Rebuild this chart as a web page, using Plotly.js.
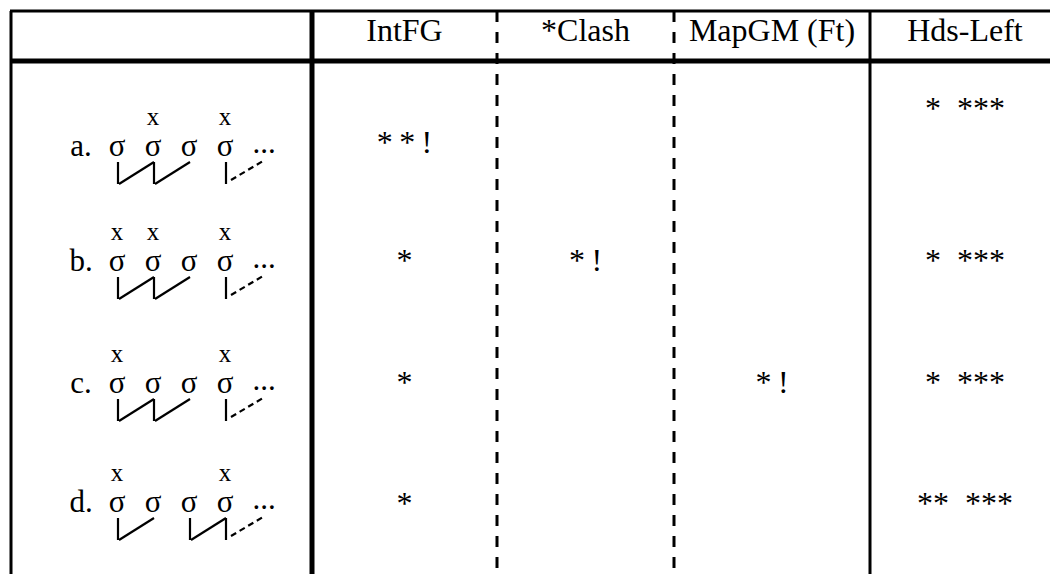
<!DOCTYPE html>
<html><head><meta charset="utf-8">
<script src="https://cdn.plot.ly/plotly-3.0.1.min.js"></script>
<style>html,body{margin:0;padding:0;background:#fff}#chart{width:1050px;height:574px}</style>
</head><body><div id="chart"></div>
<script>
// ---- data ----
const constraints = ["IntFG", "*Clash", "MapGM (Ft)", "Hds-Left"];
const candidateLabels = ["a.", "b.", "c.", "d."];
const syllables = ["σ", "σ", "σ", "σ"];
const stressMarks = [[1, 3], [0, 1, 3], [0, 3], [0, 3]];          // syllable indices bearing "x"
const feet = [                                                      // [head, tail, dashed?]
  [[0, 1, false], [1, 2, false], [3, 4, true]],
  [[0, 1, false], [1, 2, false], [3, 4, true]],
  [[0, 1, false], [1, 2, false], [3, 4, true]],
  [[0, 1, false], [2, 3, false], [3, 4, true]]
];
const violIntFG   = ["**!", "*", "*", "*"];
const violClash   = ["", "*!", "", ""];
const violMapGM   = ["", "", "*!", ""];
const violHdsLeft = ["* ***", "* ***", "* ***", "** ***"];

// ---- layout geometry ----
const W = 1050, H = 574;
const colLines = {left: 11, cand: 312, d1: 497, d2: 674, solid: 870, right: 1060};
const topY = 11, headY = 61;
const rowY = [148, 263, 385, 504];
const labelX = 81, sylX0 = 117, sylStep = 36;
const colCenters = [(colLines.cand + colLines.d1) / 2, (colLines.d1 + colLines.d2) / 2,
                    (colLines.d2 + colLines.solid) / 2, (colLines.solid + colLines.right) / 2];
const markDy = [[-3, -3, -3, -37], [0, 0, 0, 0], [0, 0, 0, 0], [2, 2, 2, 2]];
const serif = "Liberation Serif, Times New Roman, serif";
const sx = i => sylX0 + i * sylStep;
// typographic spacing of the violation strings
const spacedBang = s => s.split("").join("\u2009");
const spacedRun = s => s.replace(/ /g, "\u2002");

const traces = [];
// candidate rows: labels + syllables + "..."
const tx = [], ty = [], tt = [];
candidateLabels.forEach((lab, r) => {
  tx.push(labelX); ty.push(rowY[r]); tt.push(lab);
  syllables.forEach((s, i) => { tx.push(sx(i)); ty.push(rowY[r]); tt.push(s); });
  tx.push(sx(syllables.length) + 3); ty.push(rowY[r] - 3); tt.push("...");
});
traces.push({type: "scatter", mode: "text", x: tx, y: ty, text: tt, hoverinfo: "skip",
  textposition: "middle center", textfont: {family: serif, size: 31, color: "#000"}});
// stress grid marks
const xx = [], xy = [], xt = [];
stressMarks.forEach((arr, r) => arr.forEach(i => { xx.push(sx(i)); xy.push(rowY[r] - 29); xt.push("x"); }));
traces.push({type: "scatter", mode: "text", x: xx, y: xy, text: xt, hoverinfo: "skip",
  textposition: "middle center", textfont: {family: serif, size: 25, color: "#000"}});
// feet
feet.forEach((row, r) => row.forEach(([h, t, dashed]) => {
  const y0 = rowY[r] + 14, y1 = rowY[r] + 36;
  traces.push({type: "scatter", mode: "lines", x: [sx(h) + 1, sx(h) + 1], y: [y0, y1], hoverinfo: "skip",
    line: {color: "#000", width: 2.2}});
  traces.push({type: "scatter", mode: "lines", x: [sx(h) + (dashed ? 6 : 2), sx(t) + (dashed ? 2 : 1)],
    y: [y1 - (dashed ? 4 : 0), y0 - (dashed ? 1 : 0)], hoverinfo: "skip",
    line: {color: "#000", width: 2.2, dash: dashed ? "6px,4px" : "solid"}});
}));
// violation marks
const mx = [], my = [], mt = [];
[violIntFG, violClash, violMapGM, violHdsLeft].forEach((col, c) => col.forEach((v, r) => {
  if (v) { mx.push(colCenters[c]); my.push(rowY[r] + markDy[r][c]); mt.push(c === 3 ? spacedRun(v) : spacedBang(v)); }
}));
traces.push({type: "scatter", mode: "text", x: mx, y: my, text: mt, hoverinfo: "skip",
  textposition: "middle center", textfont: {family: serif, size: 32, color: "#000"}});
// header
traces.push({type: "scatter", mode: "text", x: colCenters, y: constraints.map(() => 33), text: constraints,
  hoverinfo: "skip", textposition: "middle center", textfont: {family: serif, size: 32, color: "#000"}});

const ln = (x0, y0, x1, y1, w, dash) => ({type: "line", xref: "x", yref: "y", x0, y0, x1, y1,
  line: {color: "#000", width: w, dash: dash || "solid"}});
const shapes = [
  ln(colLines.left - 1, topY, W, topY, 3),
  ln(colLines.left - 1, headY, W, headY, 5),
  ln(colLines.left, topY, colLines.left, H, 3),
  ln(colLines.cand, topY, colLines.cand, H, 5),
  ln(colLines.d1, topY, colLines.d1, H, 3, "11px,10px"),
  ln(colLines.d2, topY, colLines.d2, H, 3, "11px,10px"),
  ln(colLines.solid, topY, colLines.solid, H, 3)
];

Plotly.newPlot("chart", traces, {
  width: W, height: H, margin: {l: 0, r: 0, t: 0, b: 0}, showlegend: false,
  paper_bgcolor: "#fff", plot_bgcolor: "#fff",
  xaxis: {range: [0, W], visible: false, fixedrange: true},
  yaxis: {range: [H, 0], visible: false, fixedrange: true},
  shapes: shapes
}, {staticPlot: true});
</script></body></html>
